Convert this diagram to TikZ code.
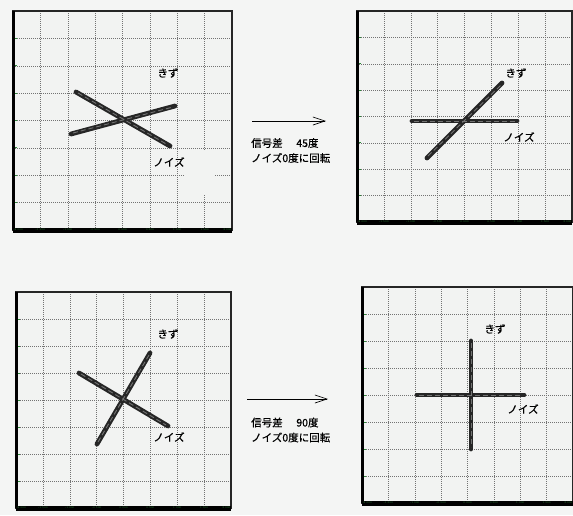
\documentclass[tikz,border=0pt]{standalone}
\usepackage{fontspec}
\newfontfamily\jpfont[FakeBold=0.6]{Noto Sans CJK JP}
\usetikzlibrary{arrows.meta}

\definecolor{pagebg}{HTML}{F4F5F4}
\definecolor{panelbg}{HTML}{F2F3F2}
\definecolor{axisgreen}{HTML}{2E8B3A}

\begin{document}
\begin{tikzpicture}[
        x=1pt, y=-1pt,
        gridline/.style={black!55, line width=0.35pt, dash pattern=on 1.2pt off 0.8pt},
        frame/.style={black!85, line width=1.2pt},
        trace/.style={black!85, line width=4.8pt, line cap=round},
        grain/.style={black!55, line width=0.9pt, dash pattern=on 5pt off 3pt},
        tag/.style={font=\jpfont\fontsize{10.5}{12}\selectfont, inner sep=0pt},
        memo/.style={font=\jpfont\fontsize{10.5}{15}\selectfont, align=left, inner sep=0pt, anchor=west},
        ticklabel/.style={font=\fontsize{2.6}{3}\selectfont, text=axisgreen, inner sep=0.3pt},
        >={Straight Barb[length=12pt, width=8pt]}
    ]

    \clip (0,0) rectangle (573,515);
    \fill[pagebg] (0,0) rectangle (573,515);

    % four scope screens: left, top, width, height
    \foreach \px/\py/\pw/\ph in {13/11/219/219, 357/11/215/211, 16/292/215/216, 362/287/211/216} {
        \fill[panelbg] (\px,\py) rectangle ++(\pw,\ph);
        \foreach \k in {1,...,7} {
            \draw[gridline] ({\px+\k*\pw/8},\py) -- ++(0,\ph);
            \draw[gridline] (\px,{\py+\k*\ph/8}) -- ++(\pw,0);
            \draw[axisgreen, line width=0.8pt] ({\px+1.5},{\py+\k*\ph/8}) -- ++(2,0);
        }
        \draw[frame] (\px,\py) rectangle ++(\pw,\ph);
        \draw[black, line width=3pt] (\px,\py) -- ++(0,\ph);
        \draw[black, line width=5pt] (\px,{\py+\ph}) -- ++(\pw,0);
        \foreach \k/\v/\a in {0/-2.000/west, 1/-1.500/center, 2/-1.000/center, 3/-0.500/center,
                4/0.000/center, 5/0.500/center, 6/1.000/center, 7/1.500/center, 8/2.000/east}
            \node[ticklabel, anchor=\a] at ({\px+\k*\pw/8},{\py+\ph}) {\v};
    }

    % erased patch on the first screen
    \fill[panelbg] (184,150) rectangle (215,195);

    % screen 1
    \draw[trace] (76,92) -- (170,146);
    \draw[trace] (71,134) -- (175,106);
    \draw[grain] (78,93) -- (168,145);
    \draw[grain] (73,133) -- (173,107);
    \node[tag] (kizuA) at (168,73) {きず};
    \node[tag] (noiseA) at (169,162) {ノイズ};

    % screen 2
    \draw[trace] (412,121) -- (517,121);
    \draw[trace] (427,158) -- (502,83);
    \draw[grain] (414,121) -- (515,121);
    \draw[grain] (428,156) -- (501,85);
    \node[tag] (kizuB) at (516,73) {きず};
    \node[tag] (noiseB) at (519,137) {ノイズ};

    % screen 3
    \draw[trace] (79,373) -- (168,426);
    \draw[trace] (97,444) -- (150,353);
    \draw[grain] (81,374) -- (166,425);
    \draw[grain] (98,442) -- (149,355);
    \node[tag] (kizuC) at (168,334) {きず};
    \node[tag] (noiseC) at (169,437) {ノイズ};

    % screen 4
    \draw[trace] (417,395) -- (524,395);
    \draw[trace] (471,341) -- (471,449);
    \draw[grain] (419,395) -- (522,395);
    \draw[grain] (471,343) -- (471,447);
    \node[tag] (kizuD) at (495,329) {きず};
    \node[tag] (noiseD) at (523,409) {ノイズ};

    % arrows with notes
    \coordinate (arrAfrom) at (252,121);
    \coordinate (arrAto) at (326,121);
    \draw[->, line width=0.7pt] (arrAfrom) -- (arrAto);
    \node[memo] (memoA) at (251,150.5) {信号差\hspace{1.3em}45度\\ノイズ0度に回転};

    \coordinate (arrBfrom) at (247,399);
    \coordinate (arrBto) at (328,399);
    \draw[->, line width=0.7pt] (arrBfrom) -- (arrBto);
    \node[memo] (memoB) at (251,430) {信号差\hspace{1.3em}90度\\ノイズ0度に回転};

\end{tikzpicture}
\end{document}
